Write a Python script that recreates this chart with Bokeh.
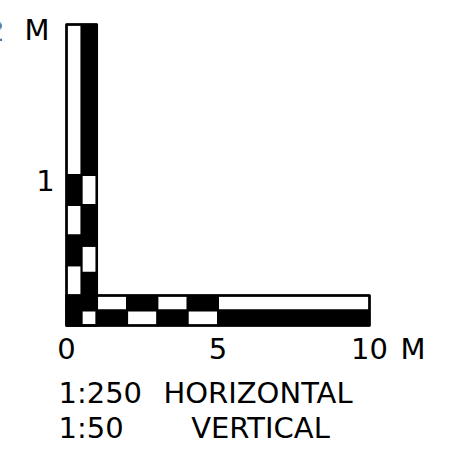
from bokeh.plotting import figure
from bokeh.models import Range1d, ColumnDataSource
from bokeh.core.properties import value
from bokeh.embed import file_html
from bokeh.resources import INLINE

# ---- data (metres) ----
# horizontal bar (1:250), two rows
upper_row_edges = [0, 1, 2, 3, 4, 5, 10]
upper_row_fill = ["black", "white", "black", "white", "black", "white"]
lower_row_edges = [0, 0.5, 1, 2, 3, 4, 5, 10]
lower_row_fill = ["black", "white", "black", "white", "black", "white", "black"]
# vertical bar (1:50), two columns
left_col_edges = [0.2, 0.4, 0.6, 0.8, 1.0, 2.0]
left_col_fill = ["white", "black", "white", "black", "white"]
right_col_edges = [0.2, 0.35, 0.53, 0.8, 1.0, 2.0]
right_col_fill = ["black", "white", "black", "white", "black"]

h_tick_values = [0, 5, 10]
h_tick_labels = ["0", "5", "10"]
h_unit = "M"
v_tick_values = [1, 2]
v_tick_labels = ["1", "2"]
v_unit = "M"
scale_ratios = ["1:250", "1:50"]
scale_names = ["HORIZONTAL", "VERTICAL"]

# ---- layout constants ----
W, H = 463, 450
PX_H = 30.3     # px per horizontal metre
PX_V = 150.5    # px per vertical metre
OX, OY = 66, 325  # canvas position of origin
ROW_H = 0.1     # row thickness (vertical metres)
COL_W = 0.5     # column thickness (horizontal metres)
FONT = value("DejaVu Sans")
FS = value("29px")

p = figure(width=W, height=H, output_backend="svg", toolbar_location=None,
           x_axis_type=None, y_axis_type=None,
           x_range=Range1d(-OX / PX_H, (W - OX) / PX_H),
           y_range=Range1d(-(H - OY) / PX_V, OY / PX_V),
           min_border=0)
p.outline_line_color = None
p.background_fill_color = "white"
p.border_fill_color = "white"

def cells(edges, fills, lo, hi, horizontal):
    a, b = edges[:-1], edges[1:]
    if horizontal:
        return dict(left=a, right=b, bottom=[lo] * len(a), top=[hi] * len(a), fill=fills)
    return dict(left=[lo] * len(a), right=[hi] * len(a), bottom=a, top=b, fill=fills)

for d in (cells(upper_row_edges, upper_row_fill, ROW_H, 2 * ROW_H, True),
          cells(lower_row_edges, lower_row_fill, 0, ROW_H, True),
          cells(left_col_edges, left_col_fill, 0, COL_W, False),
          cells(right_col_edges, right_col_fill, COL_W, 2 * COL_W, False)):
    p.quad(left="left", right="right", bottom="bottom", top="top",
           fill_color="fill", line_color="black", line_width=2,
           source=ColumnDataSource(d))

# outer frames
p.quad(left=[0, 0], right=[upper_row_edges[-1], 2 * COL_W],
       bottom=[0, 0], top=[2 * ROW_H, left_col_edges[-1]],
       fill_color=None, line_color="black", line_width=2.5, line_join="round")

txt = dict(text_font=FONT, text_font_size=FS, text_color="black",
           text_baseline="alphabetic")

# tick labels
p.text(x=h_tick_values, y=[0] * len(h_tick_values), text=h_tick_labels,
       text_align="center", y_offset=23, **txt)
p.text(x=[h_tick_values[-1]], y=[0], text=[h_unit], text_align="center",
       x_offset=43.5, y_offset=23, **txt)
p.text(x=[0], y=[v_tick_values[0]], text=[v_tick_labels[0]], text_align="center",
       x_offset=-21, y_offset=5.5, **txt)
p.text(x=[0], y=[v_tick_values[1]], text=[v_tick_labels[1]], text_align="right",
       x_offset=-62, y_offset=5.5, **txt)
p.text(x=[0], y=[v_tick_values[1]], text=[v_unit], text_align="center",
       x_offset=-29.5, y_offset=5.5, **txt)

# captions
p.text(x=[0, 0], y=[0, 0], text=scale_ratios, text_align="left",
       x_offset=-8, y_offset=[67, 102], **txt)
p.text(x=[0, 0], y=[0, 0], text=scale_names, text_align="center",
       x_offset=[191.5, 194], y_offset=[67, 102], **txt)

open("out.html", "w").write(file_html(p, INLINE))
